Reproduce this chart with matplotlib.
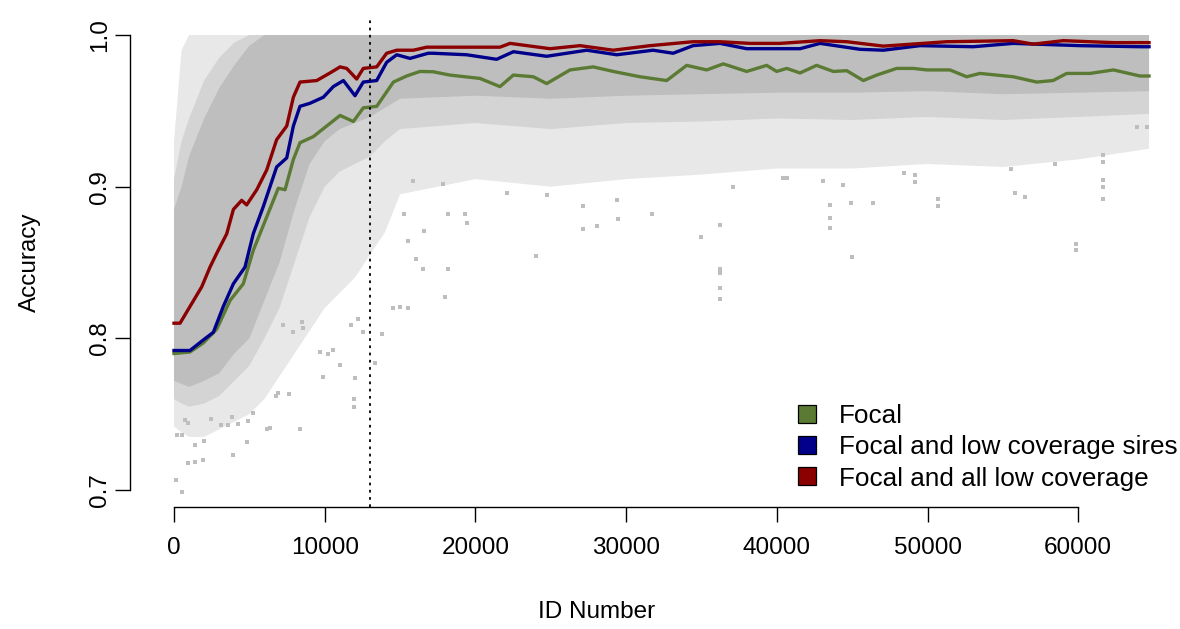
import matplotlib
matplotlib.use("Agg")
import matplotlib.pyplot as plt
from matplotlib.lines import Line2D

plt.rcParams['font.family'] = ['Liberation Sans', 'DejaVu Sans']

# ---------------- data ----------------
focal_x = [0, 1060, 1950, 2830, 3720, 4600, 5260, 6150, 6920, 7370, 7920, 8360, 9240, 10130,
           11020, 11900, 12560, 13450, 14560, 15440, 16320, 17190, 18310, 20300, 21630, 22520,
           23840, 24730, 26280, 27820, 29150, 30920, 32690, 34020, 35350, 36450, 38000, 39330,
           39990, 40660, 41540, 42640, 43750, 44640, 45740, 46630, 47950, 49060, 49950, 51490,
           52600, 53480, 54590, 55690, 57250, 58330, 59240, 60780, 62340, 64100, 64700]
focal_y = [0.790, 0.791, 0.797, 0.806, 0.825, 0.836, 0.858, 0.880, 0.899, 0.898, 0.918, 0.929,
           0.933, 0.940, 0.947, 0.943, 0.952, 0.953, 0.969, 0.973, 0.976, 0.9758, 0.9736, 0.9714,
           0.966, 0.9736, 0.9725, 0.968, 0.977, 0.979, 0.976, 0.9725, 0.970, 0.980, 0.977, 0.981,
           0.976, 0.980, 0.976, 0.978, 0.975, 0.980, 0.976, 0.9765, 0.970, 0.9736, 0.978, 0.978,
           0.977, 0.977, 0.9725, 0.9747, 0.9736, 0.9725, 0.969, 0.970, 0.9747, 0.9747, 0.977,
           0.973, 0.973]

sires_x = [0, 1060, 1950, 2610, 3270, 3940, 4710, 5260, 5930, 6810, 7480, 7920, 8360, 9020,
           9910, 10570, 11240, 12010, 12560, 13450, 14110, 14780, 15660, 16870, 17190, 19420,
           21410, 22520, 24730, 27390, 29380, 31790, 33120, 34440, 36230, 38000, 40210, 41540,
           42870, 45520, 47070, 49500, 53040, 55690, 60140, 64100, 64700]
sires_y = [0.792, 0.792, 0.799, 0.804, 0.821, 0.836, 0.847, 0.869, 0.887, 0.913, 0.919, 0.940,
           0.953, 0.955, 0.959, 0.966, 0.970, 0.960, 0.969, 0.970, 0.982, 0.987, 0.9846, 0.988,
           0.988, 0.987, 0.984, 0.989, 0.986, 0.990, 0.987, 0.990, 0.988, 0.993, 0.9945, 0.991,
           0.991, 0.991, 0.9945, 0.9906, 0.990, 0.993, 0.9923, 0.9945, 0.993, 0.9923, 0.9923]

all_x = [0, 400, 1060, 1840, 2390, 2830, 3500, 3940, 4490, 4820, 5490, 6150, 6810, 7480, 7920,
         8360, 9470, 10350, 11020, 11460, 12120, 12560, 13450, 14110, 14780, 15880, 16770,
         19000, 21630, 22300, 24950, 26940, 29140, 31590, 34440, 36230, 38220, 40210, 42870,
         44640, 47070, 51270, 55690, 57020, 59010, 62340, 64700]
all_y = [0.810, 0.810, 0.821, 0.834, 0.847, 0.856, 0.869, 0.885, 0.891, 0.888, 0.898, 0.911,
         0.931, 0.940, 0.959, 0.969, 0.970, 0.975, 0.979, 0.978, 0.971, 0.978, 0.979, 0.988,
         0.990, 0.990, 0.992, 0.992, 0.992, 0.9945, 0.991, 0.993, 0.990, 0.993, 0.9956,
         0.9956, 0.9945, 0.9945, 0.9963, 0.9956, 0.9927, 0.9956, 0.9963, 0.994, 0.9963,
         0.995, 0.995]

# extent of the grey point cloud (dense core, medium and sparse parts)
cloud_x = [0, 500, 1000, 2000, 3000, 4000, 5000, 6000, 7000, 8000, 9000, 10000, 11000, 12000,
           13000, 14000, 15000, 20000, 25000, 30000, 35000, 40000, 45000, 50000, 55000, 60000,
           64700]
dense_hi = [0.885, 0.90, 0.92, 0.945, 0.965, 0.98, 0.993, 1.0, 1.0, 1.0, 1.0, 1.0, 1.0, 1.0,
            1.0, 1.0, 1.0, 1.0, 1.0, 1.0, 1.0, 1.0, 1.0, 1.0, 1.0, 1.0, 1.0]
dense_lo = [0.772, 0.770, 0.768, 0.772, 0.777, 0.790, 0.800, 0.825, 0.850, 0.885, 0.915, 0.930,
            0.938, 0.942, 0.946, 0.952, 0.958, 0.960, 0.958, 0.960, 0.961, 0.962, 0.962, 0.963,
            0.961, 0.962, 0.963]
med_hi = [0.905, 0.93, 0.945, 0.97, 0.985, 0.995, 1.0, 1.0, 1.0, 1.0, 1.0, 1.0, 1.0, 1.0, 1.0,
          1.0, 1.0, 1.0, 1.0, 1.0, 1.0, 1.0, 1.0, 1.0, 1.0, 1.0, 1.0]
med_lo = [0.760, 0.757, 0.755, 0.757, 0.762, 0.772, 0.782, 0.800, 0.820, 0.850, 0.880, 0.900,
          0.910, 0.915, 0.920, 0.930, 0.938, 0.942, 0.938, 0.942, 0.943, 0.945, 0.944, 0.946,
          0.944, 0.946, 0.948]
sparse_hi = [0.93, 0.99, 1.0, 1.0, 1.0, 1.0, 1.0, 1.0, 1.0, 1.0, 1.0, 1.0, 1.0, 1.0, 1.0, 1.0,
             1.0, 1.0, 1.0, 1.0, 1.0, 1.0, 1.0, 1.0, 1.0, 1.0, 1.0]
sparse_lo = [0.742, 0.738, 0.735, 0.735, 0.740, 0.745, 0.750, 0.760, 0.775, 0.790, 0.805, 0.820,
             0.830, 0.840, 0.855, 0.870, 0.895, 0.905, 0.900, 0.905, 0.908, 0.912, 0.912, 0.915,
             0.913, 0.918, 0.925]

# isolated low points
out_x = [510, 130, 950, 1390, 1950, 3940, 4870, 1990, 1390, 180, 510, 6150, 6370, 8360, 3150,
         3600, 4270, 3830, 4930, 2460, 730, 950, 11940, 11940, 12010, 9910, 6750, 6920, 7650,
         5260, 13340, 11020, 10570, 10240, 9690, 13820, 14560, 15000, 15550, 8470, 8580, 7920,
         7250, 11720, 12230, 12560, 17980, 16540, 18200, 16060, 15550, 16590, 19420, 24020,
         27160, 28050, 29480, 34970, 36230, 36230, 36230, 36230, 36230, 15260, 18180, 19280,
         27140, 29380, 31690, 15870, 17870, 22080, 24730, 37100, 40660, 44970, 43530, 43530,
         43530, 44920, 46400, 50720, 50720, 55810, 56500, 61620, 61620, 61620, 61620, 61620,
         40430, 43090, 44420, 48440, 49170, 49170, 55520, 58460, 63880, 64540, 59850, 59850]
out_y = [0.699, 0.7066, 0.7176, 0.7187, 0.7198, 0.723, 0.7319, 0.732, 0.730, 0.736, 0.736,
         0.740, 0.741, 0.740, 0.743, 0.743, 0.7435, 0.7483, 0.7457, 0.747, 0.746, 0.744, 0.760,
         0.755, 0.7736, 0.7747, 0.762, 0.7637, 0.763, 0.7506, 0.7835, 0.7824, 0.7923, 0.790,
         0.791, 0.803, 0.820, 0.821, 0.820, 0.811, 0.8066, 0.804, 0.8088, 0.8088, 0.813, 0.804,
         0.8275, 0.846, 0.846, 0.852, 0.864, 0.871, 0.876, 0.854, 0.872, 0.874, 0.879, 0.867,
         0.875, 0.846, 0.843, 0.833, 0.826, 0.882, 0.882, 0.882, 0.887, 0.891, 0.882, 0.904,
         0.902, 0.8956, 0.8945, 0.900, 0.9055, 0.8534, 0.8726, 0.8791, 0.888, 0.889, 0.8895,
         0.887, 0.892, 0.8956, 0.8934, 0.8917, 0.900, 0.9044, 0.9165, 0.921, 0.9055, 0.904,
         0.901, 0.9088, 0.9077, 0.9033, 0.9117, 0.915, 0.9395, 0.9395, 0.862, 0.858]

cutoff_id = 13000
series_labels = ["Focal", "Focal and low coverage sires", "Focal and all low coverage"]
series_colors = ["#5B7A34", "#00008B", "#8B0000"]
x_ticks = [0, 10000, 20000, 30000, 40000, 50000, 60000]
y_ticks = [0.7, 0.8, 0.9, 1.0]

# ---------------- figure ----------------
W, H = 1180, 629
fig = plt.figure(figsize=(W / 100, H / 100), dpi=100)
ax = fig.add_axes([130 / W, 1 - 507 / H, 1 - 130 / W, (507 - 17) / H])

grey = "#BEBEBE"
ax.fill_between(cloud_x, sparse_lo, sparse_hi, facecolor="#E8E8E8", linewidth=0, zorder=1)
ax.fill_between(cloud_x, med_lo, med_hi, facecolor="#D4D4D4", linewidth=0, zorder=1.1)
ax.fill_between(cloud_x, dense_lo, dense_hi, facecolor=grey, linewidth=0, zorder=1.2)
ax.scatter(out_x, out_y, s=5, marker="s", color=grey, linewidths=0, zorder=1.3)

for xs, ys, c in [(focal_x, focal_y, series_colors[0]),
                  (sires_x, sires_y, series_colors[1]),
                  (all_x, all_y, series_colors[2])]:
    ax.plot(xs, ys, color=c, lw=2.4, solid_joinstyle="round", zorder=3)

ax.axvline(cutoff_id, color="black", lw=1.3, linestyle=(0, (1.5, 2.5)), zorder=4)

ax.set_xlim(-2920, 66755)
ax.set_ylim(0.6888, 1.0119)

for s in ["top", "right"]:
    ax.spines[s].set_visible(False)
ax.spines["left"].set_bounds(0.7, 1.0)
ax.spines["bottom"].set_bounds(0, 60000)
for s in ["left", "bottom"]:
    ax.spines[s].set_linewidth(1.0)

ax.set_xticks(x_ticks)
ax.set_xticklabels([str(t) for t in x_ticks])
ax.set_yticks(y_ticks)
ax.set_yticklabels([f"{t:.1f}" for t in y_ticks], rotation=90, va="center")
ax.tick_params(axis="both", direction="out", length=10.5, width=1.0, labelsize=17.5,
               colors="black")
ax.tick_params(axis="x", pad=11)
ax.tick_params(axis="y", pad=3)

ax.set_xlabel("ID Number", fontsize=17.5)
ax.set_ylabel("Accuracy", fontsize=17.5)
ax.xaxis.set_label_coords((597 - 130) / (W - 130), -(612 - 507) / (507 - 17))
ax.yaxis.set_label_coords(-(130 - 30) / (W - 130), (507 - 262) / (507 - 17))
ax.xaxis.label.set_va("center")
ax.yaxis.label.set_va("center")

handles = [Line2D([], [], marker="s", linestyle="none", markersize=13,
                  markerfacecolor=c, markeredgecolor="black", markeredgewidth=0.9)
           for c in series_colors]
leg = ax.legend(handles, series_labels, loc="upper left", frameon=False, fontsize=18.8,
                bbox_to_anchor=(794 / W, 1 - 404 / H), bbox_transform=fig.transFigure,
                handletextpad=0.72, labelspacing=0.28, borderpad=0, handlelength=1.0,
                borderaxespad=0)

fig.savefig("out.png", dpi=100)
